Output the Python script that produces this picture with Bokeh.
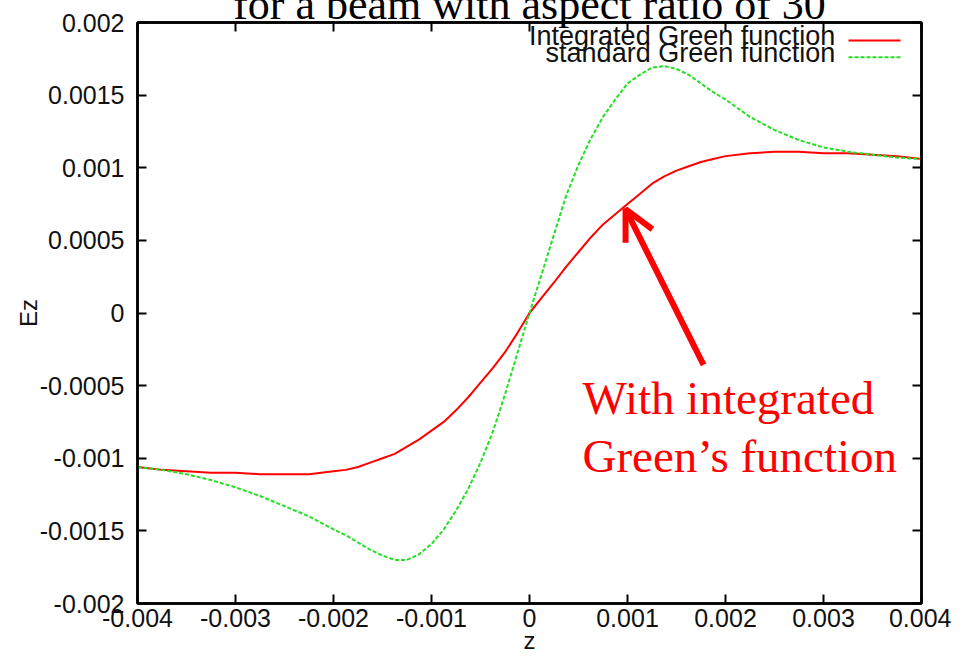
from bokeh.plotting import figure
from bokeh.models import Range1d, FixedTicker, LinearAxis, Label, Arrow, OpenHead
from bokeh.embed import file_html
from bokeh.resources import INLINE

# ---- data ----
z = [-0.004, -0.00375, -0.0035, -0.00325, -0.003, -0.00275, -0.0025, -0.00225,
     -0.002, -0.001875, -0.00175, -0.001625, -0.0015, -0.001375, -0.00125, -0.001125,
     -0.001, -0.000875, -0.00075, -0.000625, -0.0005, -0.000375, -0.00025, -0.000125,
     0.0,
     0.000125, 0.00025, 0.000375, 0.0005, 0.000625, 0.00075, 0.000875, 0.001,
     0.001125, 0.00125, 0.001375, 0.0015, 0.001625, 0.00175, 0.001875, 0.002,
     0.00225, 0.0025, 0.00275, 0.003, 0.00325, 0.0035, 0.00375, 0.004]

ez_integrated = [-0.00106, -0.00108, -0.00109, -0.0011, -0.0011, -0.00111, -0.00111, -0.00111,
                 -0.00109, -0.00108, -0.00106, -0.00103, -0.001, -0.00097, -0.00092, -0.00087,
                 -0.00081, -0.00075, -0.00067, -0.00058, -0.00048, -0.00038, -0.00027, -0.00014,
                 0.0,
                 0.000105, 0.00021, 0.00032, 0.00042, 0.00052, 0.00061, 0.00068, 0.00075,
                 0.00082, 0.00089, 0.00094, 0.00098, 0.00101, 0.00104, 0.00106, 0.00108,
                 0.0011, 0.00111, 0.00111, 0.0011, 0.0011, 0.00109, 0.00108, 0.00106]

ez_standard = [-0.00106, -0.00108, -0.00111, -0.00115, -0.0012, -0.00126, -0.00133, -0.0014,
               -0.00149, -0.00153, -0.00158, -0.00163, -0.00167, -0.0017, -0.0017, -0.00166,
               -0.00159, -0.00149, -0.00136, -0.00121, -0.00103, -0.00082, -0.00056, -0.00028,
               0.0,
               0.00027, 0.00054, 0.00081, 0.00102, 0.0012, 0.00135, 0.00147, 0.00158,
               0.00164, 0.00169, 0.0017, 0.00168, 0.00164, 0.00158, 0.00152, 0.00147,
               0.00135, 0.00126, 0.00119, 0.00114, 0.00111, 0.00109, 0.00107, 0.00106]

x_ticks = [-0.004, -0.003, -0.002, -0.001, 0.0, 0.001, 0.002, 0.003, 0.004]
x_tick_labels = ["-0.004", "-0.003", "-0.002", "-0.001", "0", "0.001", "0.002", "0.003", "0.004"]
y_ticks = [-0.002, -0.0015, -0.001, -0.0005, 0.0, 0.0005, 0.001, 0.0015, 0.002]
y_tick_labels = ["-0.002", "-0.0015", "-0.001", "-0.0005", "0", "0.0005", "0.001", "0.0015", "0.002"]

series_names = ["Integrated Green function", "standard Green function"]
x_title = "z"
y_title = "Ez"
title_text = "for a beam with aspect ratio of 30"
note_lines = ["With integrated", "Green\u2019s function"]

RED = "#ff0000"
GREEN = "#22e022"
SANS = "Liberation Sans"
SERIF = "Liberation Serif"

HIDDEN_TOP = 40   # part of the canvas pushed above the window, so the title is cut off

p = figure(width=951, height=656 + HIDDEN_TOP,
           x_range=Range1d(-0.004, 0.004), y_range=Range1d(-0.002, 0.002),
           output_backend="svg", toolbar_location=None,
           min_border_left=137, min_border_right=30,
           min_border_top=22 + HIDDEN_TOP, min_border_bottom=52,
           styles={"margin-top": f"-{HIDDEN_TOP}px"})
p.grid.visible = False
p.outline_line_color = "black"
p.outline_line_width = 2.5
p.background_fill_color = "white"
p.border_fill_color = "white"

# title (its top is cut off by the window edge, as in the reference)
p.title.text = title_text
p.title.text_font = SERIF
p.title.text_font_size = "44px"
p.title.text_font_style = "normal"
p.title.text_color = "black"
p.title.align = "center"
p.title.standoff = -13

# main axes
p.xaxis.ticker = FixedTicker(ticks=x_ticks)
p.yaxis.ticker = FixedTicker(ticks=y_ticks)
p.xaxis.major_label_overrides = {t: s for t, s in zip(x_ticks, x_tick_labels)}
p.yaxis.major_label_overrides = {t: s for t, s in zip(y_ticks, y_tick_labels)}
for ax in (p.xaxis[0], p.yaxis[0]):
    ax.axis_line_color = "black"
    ax.axis_line_width = 2.5
    ax.major_tick_in = 9
    ax.major_tick_out = 0
    ax.major_tick_line_width = 2
    ax.minor_tick_line_color = None
    ax.major_label_text_font = SANS
    ax.major_label_text_font_size = "25px"
    ax.major_label_text_color = "#111111"
    ax.axis_label_text_font = SANS
    ax.axis_label_text_font_style = "normal"
    ax.axis_label_text_font_size = "24px"
    ax.axis_label_text_color = "#111111"
p.xaxis.axis_label = x_title
p.yaxis.axis_label = y_title
p.xaxis.major_label_standoff = 5
p.xaxis.axis_label_standoff = -3
p.yaxis.major_label_standoff = 13
p.yaxis.axis_label_standoff = -5

# mirrored ticks on top and right
for side in ("above", "right"):
    ticks = x_ticks if side == "above" else y_ticks
    ax = LinearAxis(ticker=FixedTicker(ticks=ticks))
    ax.axis_line_color = "black"
    ax.axis_line_width = 2.5
    ax.major_tick_in = 9
    ax.major_tick_out = 0
    ax.major_tick_line_width = 2
    ax.minor_tick_line_color = None
    ax.major_label_text_font_size = "1px"
    ax.major_label_text_color = None
    ax.major_label_standoff = 0
    p.add_layout(ax, side)

# curves
p.line(z, ez_integrated, line_color=RED, line_width=2)
p.line(z, ez_standard, line_color=GREEN, line_width=2, line_dash="4 2")

# legend (gnuplot style: text right-aligned, sample on the right)
leg_text_x = 0.00312
leg_y = [0.001904, 0.001787]
leg_line_y = [0.001876, 0.00176]
leg_x0, leg_x1 = 0.003255, 0.003786
for i in range(2):
    p.add_layout(Label(x=leg_text_x, y=leg_y[i], text=series_names[i], text_align="right",
                       text_baseline="alphabetic", text_font=SANS, text_font_size="27px",
                       text_color="#111111"))
p.segment(x0=[leg_x0], y0=[leg_line_y[0]], x1=[leg_x1], y1=[leg_line_y[0]],
          line_color=RED, line_width=2)
p.segment(x0=[leg_x0], y0=[leg_line_y[1]], x1=[leg_x1], y1=[leg_line_y[1]],
          line_color=GREEN, line_width=2, line_dash="4 2")

# annotation
p.add_layout(Arrow(x_start=0.001776, y_start=-0.000357, x_end=0.00098, y_end=0.000715,
                   line_color=RED, line_width=6,
                   end=OpenHead(line_color=RED, line_width=6, size=30)))
p.add_layout(Label(x=0.000541, y=-0.000584, text=note_lines[0], text_align="left",
                   text_baseline="alphabetic", text_font=SERIF, text_font_size="47px",
                   text_color=RED))
p.add_layout(Label(x=0.000541, y=-0.000983, text=note_lines[1], text_align="left",
                   text_baseline="alphabetic", text_font=SERIF, text_font_size="47px",
                   text_color=RED))

open("out.html", "w").write(file_html(p, INLINE))
